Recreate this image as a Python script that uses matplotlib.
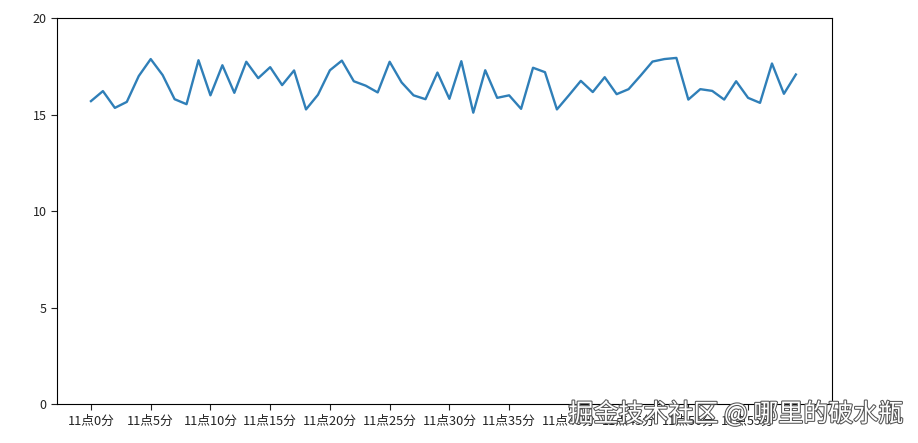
import matplotlib.pyplot as plt
import matplotlib.patheffects as pe

plt.rcParams['font.family'] = ['Noto Sans CJK SC', 'DejaVu Sans']
plt.rcParams['axes.unicode_minus'] = False

# --------------------------------------------------
# Data
# --------------------------------------------------

minutes = list(range(60))
temperature = [
    15.70, 16.22, 15.35, 15.66, 17.00, 17.88, 17.05, 15.80, 15.54, 17.82,
    16.00, 17.56, 16.13, 17.74, 16.89, 17.46, 16.53, 17.29, 15.27, 16.03,
    17.30, 17.80, 16.73, 16.50, 16.15, 17.74, 16.67, 16.00, 15.80, 17.18,
    15.82, 17.77, 15.10, 17.30, 15.87, 16.00, 15.30, 17.43, 17.20, 15.27,
    16.00, 16.75, 16.17, 16.94, 16.06, 16.32, 17.02, 17.75, 17.88, 17.94,
    15.78, 16.32, 16.23, 15.78, 16.73, 15.87, 15.61, 17.65, 16.08, 17.08,
]
x_labels = ["11点{}分".format(i) for i in minutes]
y_ticks = [0, 5, 10, 15, 20]

# --------------------------------------------------
# Plot
# --------------------------------------------------

fig = plt.figure(figsize=(9.18, 4.43), dpi=100)
ax = fig.add_axes([0.062, 0.088, 0.844, 0.871])

ax.plot(minutes, temperature, color="#2f7fb8", linewidth=1.7)

ax.set_xticks(minutes[::5])
ax.set_xticklabels(x_labels[::5], fontsize=9.2)
ax.set_yticks(y_ticks)
ax.set_yticklabels([str(v) for v in y_ticks], fontsize=9)
ax.set_ylim(0, 20)
ax.set_xlim(-2.85, 62.0)
ax.tick_params(colors="#222222", length=4)

# watermark
fig.text(0.984, 0.035, "掘金技术社区 @ 哪里的破水瓶", ha="right", va="bottom",
         fontsize=18, color="white",
         path_effects=[pe.withStroke(linewidth=1.5, foreground="#555555")])

fig.savefig("out.png", dpi=100)
plt.close()
